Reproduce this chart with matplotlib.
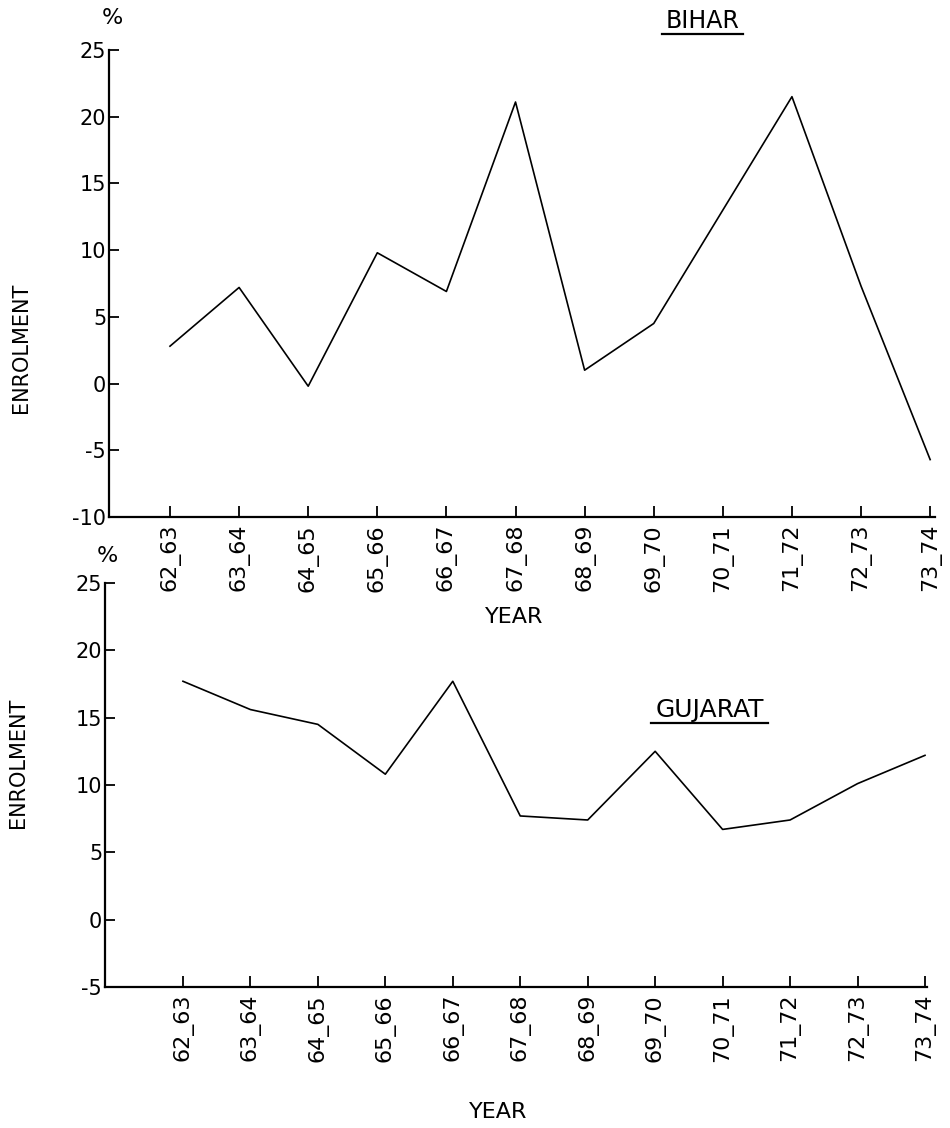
import matplotlib
matplotlib.use("Agg")
from matplotlib import pyplot as plt

# годы (подписи по оси X)
years = ["62_63", "63_64", "64_65", "65_66", "66_67", "67_68",
         "68_69", "69_70", "70_71", "71_72", "72_73", "73_74"]

# прирост набора, %
bihar = [2.8, 7.2, -0.2, 9.8, 6.9, 21.1, 1.0, 4.5, 13.0, 21.5, 7.3, -5.7]
gujarat = [17.7, 15.6, 14.5, 10.8, 17.7, 7.7, 7.4, 12.5, 6.7, 7.4, 10.1, 12.2]

bihar_ticks = [-10, -5, 0, 5, 10, 15, 20, 25]
gujarat_ticks = [-5, 0, 5, 10, 15, 20, 25]

plt.rcParams['font.family'] = ['DejaVu Sans']

fig = plt.figure(figsize=(9.5, 11.28), dpi=100)


def setup_axes(ax, yticks, ylim, xlim):
    ax.set_xlim(xlim)
    ax.set_ylim(ylim)
    ax.patch.set_facecolor('none')  # чтобы не закрывать подписи верхнего графика
    ax.spines['top'].set_visible(False)
    ax.spines['right'].set_visible(False)
    ax.spines['left'].set_linewidth(1.6)
    ax.spines['bottom'].set_linewidth(1.6)
    ax.set_xticks(range(len(years)))
    ax.set_xticklabels(years, rotation=90, fontsize=16)
    ax.set_yticks(yticks)
    ax.set_yticklabels([str(t) for t in yticks], fontsize=15)
    ax.tick_params(axis='y', direction='in', length=7, width=1.3, pad=2)
    ax.tick_params(axis='x', direction='in', length=8, width=1.3, pad=5)


# верхний график - Bihar
ax1 = fig.add_axes([0.1147, 0.5417, 0.8695, 0.414])
x = list(range(len(years)))
ax1.plot(x, bihar, color='black', linewidth=1.2)
setup_axes(ax1, bihar_ticks, (-10, 25), (-0.883, 11.07))

# нижний график - Gujarat
ax2 = fig.add_axes([0.1105, 0.125, 0.8653, 0.3582])
ax2.plot(x, gujarat, color='black', linewidth=1.2)
setup_axes(ax2, gujarat_ticks, (-5, 25), (-1.156, 11.03))

# подписи
fig.text(112 / 950, 1 - 18 / 1128, "%", fontsize=16, ha='center', va='center')
fig.text(107 / 950, 1 - 556 / 1128, "%", fontsize=16, ha='center', va='center')
fig.text(21 / 950, 1 - 348 / 1128, "ENROLMENT", fontsize=15, rotation=90,
         ha='center', va='center')
fig.text(18 / 950, 1 - 763 / 1128, "ENROLMENT", fontsize=15, rotation=90,
         ha='center', va='center')
fig.text(514 / 950, 1 - 617 / 1128, "YEAR", fontsize=16, ha='center', va='center')
fig.text(498 / 950, 1 - 1112 / 1128, "YEAR", fontsize=16, ha='center', va='center')
fig.text(703 / 950, 1 - 21 / 1128, "BIHAR", fontsize=17, ha='center', va='center')
fig.add_artist(plt.Line2D([662 / 950, 743 / 950], [1 - 34 / 1128, 1 - 34 / 1128],
                          color='black', linewidth=1.6))
fig.text(710 / 950, 1 - 710 / 1128, "GUJARAT", fontsize=18, ha='center', va='center')
fig.add_artist(plt.Line2D([651 / 950, 768 / 950], [1 - 723 / 1128, 1 - 723 / 1128],
                          color='black', linewidth=1.6))

fig.savefig("out.png", dpi=100)
